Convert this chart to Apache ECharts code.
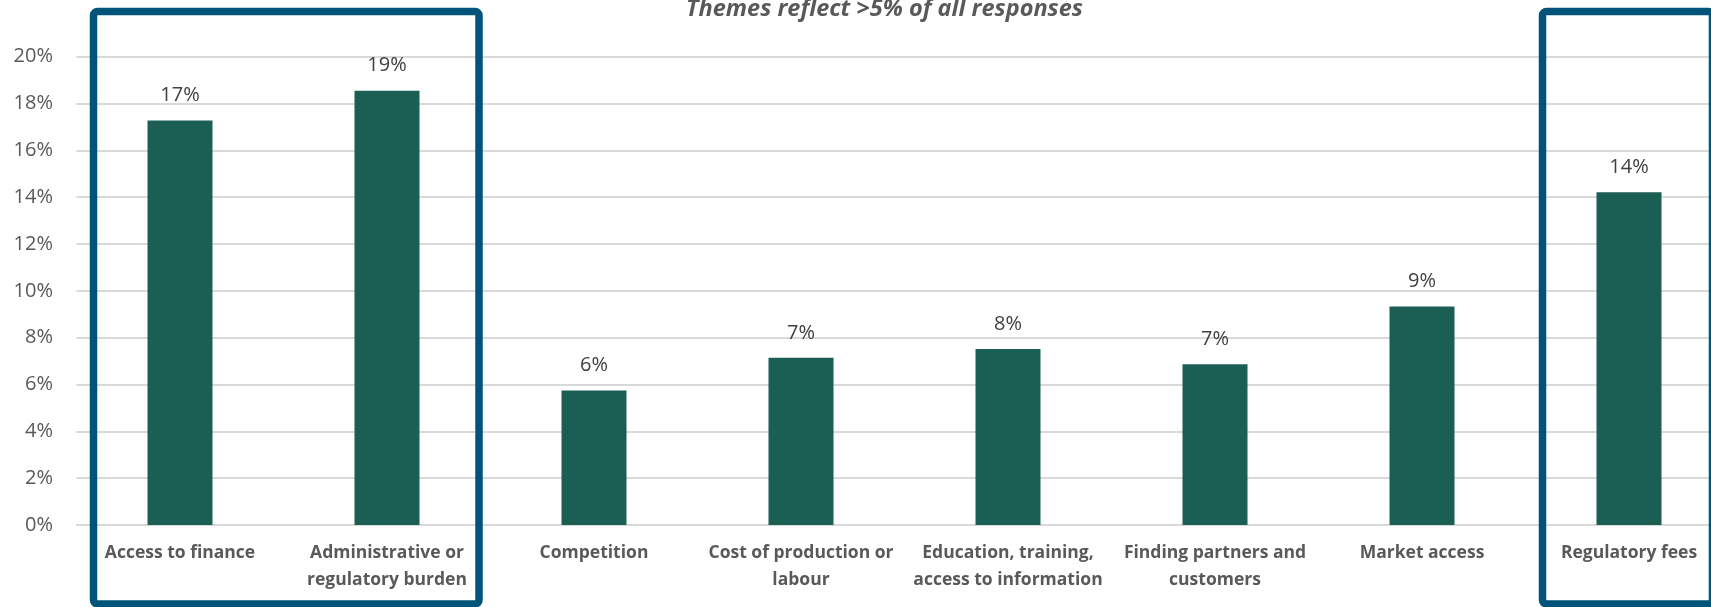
<!DOCTYPE html>
<html>
<head>
<meta charset="utf-8">
<script src="https://cdn.jsdelivr.net/npm/echarts@6/dist/echarts.min.js"></script>
<style>
html,body{margin:0;padding:0;background:#fff;}
#chart{width:1711px;height:607px;}
</style>
</head>
<body>
<div id="chart"></div>
<script>
const titleText = 'Themes reflect >5% of all responses';
const categories = [
  'Access to finance',
  'Administrative or\nregulatory burden',
  'Competition',
  'Cost of production or\nlabour',
  'Education, training,\naccess to information',
  'Finding partners and\ncustomers',
  'Market access',
  'Regulatory fees'
];
const shares = [17.27, 18.55, 5.74, 7.14, 7.52, 6.86, 9.33, 14.21];
const highlightedGroups = [[0, 1], [7, 7]];
const yTicks = [0, 2, 4, 6, 8, 10, 12, 14, 16, 18, 20];

const grey = '#595959';
const chart = echarts.init(document.getElementById('chart'), null, {renderer: 'canvas'});
chart.setOption({
  animation: false,
  backgroundColor: '#ffffff',
  title: {
    text: titleText,
    left: 879.5, top: -7, textAlign: 'center',
    textStyle: {fontFamily: 'Open Sans', fontStyle: 'italic', fontWeight: 'bold', fontSize: 23.5, color: grey}
  },
  grid: {left: 76.5, top: 56.7, width: 1656, height: 468.3, containLabel: false, outerBoundsMode: 'none'},
  xAxis: {
    type: 'category',
    data: categories,
    axisTick: {show: false},
    axisLine: {show: true, lineStyle: {color: '#d9d9d9', width: 2}},
    axisLabel: {
      interval: 0, margin: 14.5, lineHeight: 27,
      fontFamily: 'Open Sans', fontWeight: 'bold', fontSize: 17.5, color: grey
    }
  },
  yAxis: {
    type: 'value',
    min: yTicks[0], max: yTicks[yTicks.length - 1], interval: 2,
    axisLine: {show: false}, axisTick: {show: false},
    splitLine: {lineStyle: {color: '#d9d9d9', width: 2}},
    axisLabel: {margin: 23.5, fontFamily: 'Open Sans', fontSize: 20, color: grey, formatter: '{value}%'}
  },
  series: [{
    type: 'bar',
    data: shares,
    barWidth: 65,
    itemStyle: {color: '#1a5e54'},
    label: {
      show: true, position: 'top', distance: 15,
      fontFamily: 'Open Sans', fontSize: 20, color: '#404040',
      formatter: p => Math.round(p.value) + '%'
    }
  }]
});

// highlight frames around category groups
const half = 103.5;
const graphics = highlightedGroups.map((g, i) => {
  const x0 = chart.convertToPixel({xAxisIndex: 0}, g[0]) - half + 17;
  const x1 = i === 0 ? chart.convertToPixel({xAxisIndex: 0}, g[1]) + half - 11.5
                     : chart.convertToPixel({xAxisIndex: 0}, g[1]) + half - 20;
  return {
    type: 'rect', z: 100,
    shape: {x: x0, y: 11.5, width: x1 - x0, height: 592.5, r: 4},
    style: {fill: 'none', stroke: '#02537a', lineWidth: 7.5}
  };
});
chart.setOption({graphic: graphics});
</script>
</body>
</html>
